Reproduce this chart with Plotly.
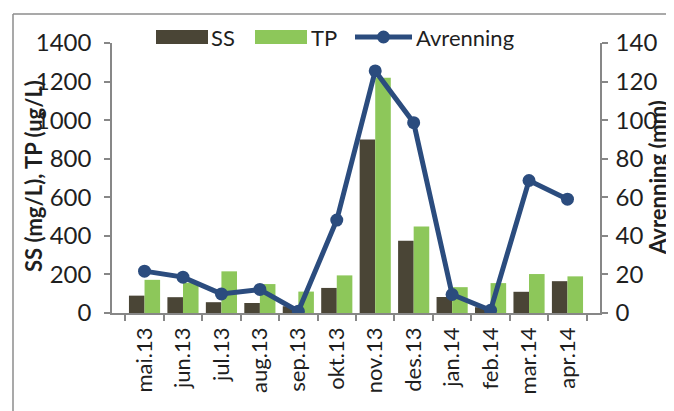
import plotly.graph_objects as go

months = ["mai.13", "jun.13", "jul.13", "aug.13", "sep.13", "okt.13",
          "nov.13", "des.13", "jan.14", "feb.14", "mar.14", "apr.14"]
ss = [90, 82, 56, 52, 35, 130, 900, 374, 83, 30, 110, 165]
tp = [172, 157, 216, 150, 111, 195, 1220, 449, 134, 155, 202, 190]
avrenning = [21.7, 18.6, 9.9, 12.2, 0.9, 48.2, 125.5, 98.7, 9.6, 1.4, 68.7, 59.0]

FONT = "Lato"
FS = 22       # legend / titles / category labels
FS_NUM = 24   # numeric tick labels
TXT = "#1f1f1f"
AX = "#878787"
C_SS, C_TP, C_AV = "#4a4536", "#8dc75a", "#2b4c7e"

OFF = 8                      # browser body margin
W, H = 674 - OFF, 411 - OFF  # figure fits the window
# plot area in window pixels: x 112..600, y 43..313
L, T = 112 - OFF, 43 - OFF
pw, ph = 488, 270
R = W - L - pw
B = H - T - ph


def px_x(p):
    """window x pixel -> paper coordinate"""
    return (p - OFF - L) / pw


def px_y(p):
    """window y pixel -> paper coordinate"""
    return (T + ph - (p - OFF)) / ph


fig = go.Figure()
fig.add_trace(go.Bar(x=months, y=ss, name="SS", marker_color=C_SS,
                     marker_line_width=0))
fig.add_trace(go.Bar(x=months, y=tp, name="TP", marker_color=C_TP,
                     marker_line_width=0))
fig.add_trace(go.Scatter(x=months, y=avrenning, name="Avrenning", yaxis="y2",
                         mode="lines+markers",
                         line=dict(color=C_AV, width=5),
                         marker=dict(color=C_AV, size=13)))

axis_common = dict(showline=True, linecolor=AX, linewidth=1.5,
                   ticks="outside", tickcolor=AX, ticklen=6, tickwidth=1.5,
                   showgrid=False, zeroline=False, automargin=False)

legend_shapes = [
    dict(type="rect", xref="paper", yref="paper", x0=px_x(156), x1=px_x(208),
         y0=px_y(44), y1=px_y(30), fillcolor=C_SS, line_width=0),
    dict(type="rect", xref="paper", yref="paper", x0=px_x(255), x1=px_x(307),
         y0=px_y(44), y1=px_y(30), fillcolor=C_TP, line_width=0),
    dict(type="line", xref="paper", yref="paper", x0=px_x(355), x1=px_x(412),
         y0=px_y(37), y1=px_y(37), line=dict(color=C_AV, width=5)),
    dict(type="circle", xref="paper", yref="paper", x0=px_x(377), x1=px_x(390),
         y0=px_y(43.5), y1=px_y(30.5), fillcolor=C_AV, line_width=0),
]
border_shapes = [
    dict(type="line", xref="paper", yref="paper",
         x0=px_x(13), x1=px_x(13), y0=px_y(430), y1=px_y(14),
         line=dict(color="#8c8c8c", width=1.5)),
    dict(type="line", xref="paper", yref="paper",
         x0=px_x(13), x1=px_x(690), y0=px_y(14), y1=px_y(14),
         line=dict(color="#8c8c8c", width=1.5)),
]

legend_ann = [
    dict(text="SS", x=px_x(209), y=px_y(37)),
    dict(text="TP", x=px_x(309), y=px_y(37)),
    dict(text="Avrenning", x=px_x(414), y=px_y(37)),
]
annotations = [dict(xref="paper", yref="paper", xanchor="left", yanchor="middle",
                    showarrow=False, font=dict(family=FONT, size=FS, color=TXT),
                    **a) for a in legend_ann]
annotations += [
    dict(text="<b>SS (mg/L), TP (ug/L)</b>", xref="paper", yref="paper",
         x=px_x(33), y=px_y(176), xanchor="center", yanchor="middle",
         textangle=-90, showarrow=False,
         font=dict(family=FONT, size=FS, color=TXT)),
    dict(text="<b>Avrenning (mm)</b>", xref="paper", yref="paper",
         x=px_x(657), y=px_y(178), xanchor="center", yanchor="middle",
         textangle=-90, showarrow=False,
         font=dict(family=FONT, size=FS, color=TXT)),
]

fig.update_layout(
    width=W, height=H,
    margin=dict(l=L, r=R, t=T, b=B, autoexpand=False),
    paper_bgcolor="white", plot_bgcolor="white",
    font=dict(family=FONT, size=FS, color=TXT),
    barmode="group", bargap=0.19, bargroupgap=0,
    showlegend=False,
    xaxis=dict(type="category", tickson="boundaries", tickangle=-90,
               ticklabelstandoff=4,
               tickfont=dict(family=FONT, size=FS, color=TXT), **axis_common),
    yaxis=dict(range=[0, 1400], dtick=200, ticklabelstandoff=8,
               tickfont=dict(family=FONT, size=FS_NUM, color=TXT), **axis_common),
    yaxis2=dict(range=[0, 140], dtick=20, overlaying="y", side="right",
                ticklabelstandoff=3,
                tickfont=dict(family=FONT, size=FS_NUM, color=TXT), **axis_common),
    shapes=border_shapes + legend_shapes,
    annotations=annotations,
)

fig.write_html("out.html")
